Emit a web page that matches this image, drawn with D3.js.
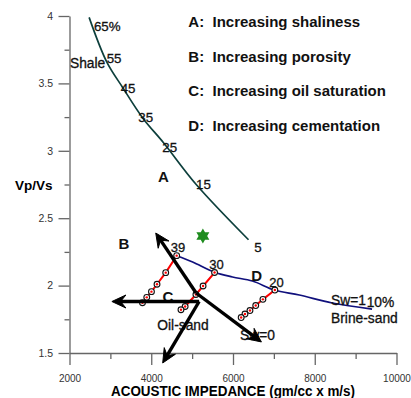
<!DOCTYPE html>
<html>
<head>
<meta charset="utf-8">
<script src="https://cdn.jsdelivr.net/npm/d3@7"></script>
<style>
  html, body { margin: 0; padding: 0; background: #fff; }
  svg { display: block; font-family: "Liberation Sans", Arial, Helvetica, sans-serif; }
</style>
</head>
<body>
<svg id="chart" width="411" height="398"></svg>
<script>
// ---- data: acoustic impedance (gm/cc x m/s) vs Vp/Vs ----
const xMajorTicks = [2000, 4000, 6000, 8000, 10000];
const xMinorTicks = [3000, 5000, 7000, 9000];
const yMajorTicks = [1.5, 2, 2.5, 3, 3.5, 4];
const yMinorTicks = [1.75, 2.25, 2.75, 3.25, 3.75];

// shale trend (clay content 65% -> 5%)
const shaleAI    = [2480, 2910, 3300, 3800, 4300, 5100, 6380];
const shaleVpVs  = [3.99, 3.66, 3.47, 3.24, 3.06, 2.75, 2.34];
const shaleLabels = ["65%", "55", "45", "35", "25", "15", "5"];
const shaleLabelAI   = [2599, 2910, 3253, 3683, 4270, 5095, 6521];
const shaleLabelVpVs = [3.891, 3.649, 3.427, 3.216, 2.991, 2.713, 2.251];

// brine-sand trend (porosity 39% -> 10%, Sw = 1)
const brineAI   = [4622, 5012, 5549, 5988, 6476, 7012, 7622, 8427, 9402];
const brineVpVs = [2.222, 2.175, 2.099, 2.064, 2.034, 1.967, 1.930, 1.871, 1.826];

// oil substitution lines for porosity 39, 30 and 20 (Sw from 1 down to 0)
const sat39AI   = [4622, 4354, 4141, 4005, 3890, 3785];
const sat39VpVs = [2.222, 2.096, 2.010, 1.955, 1.913, 1.873];
const sat30AI   = [5549, 5268, 5093, 4829, 4727];
const sat30VpVs = [2.097, 1.997, 1.934, 1.845, 1.821];
const sat20AI   = [7024, 6732, 6556, 6415, 6293, 6200];
const sat20VpVs = [1.967, 1.898, 1.852, 1.815, 1.789, 1.763];

// reference sample
const starAI = 5263, starVpVs = 2.368;

// trend arrows: [from AI, from Vp/Vs, to AI, to Vp/Vs]
const arrowB   = [5098, 1.945, 4110, 2.390];
const arrowSw0 = [5098, 1.945, 6695, 1.582];
const arrowC   = [5171, 1.882, 3037, 1.882];
const arrowDn  = [5171, 1.882, 4280, 1.426];

// text annotations
const porosityLabels = ["39", "30", "20"];
const porosityLabelAI   = [4476, 5420, 6888];
const porosityLabelVpVs = [2.247, 2.123, 1.992];
const noteText = ["Shale", "Sw=1", "10%", "Brine-sand", "Oil-sand", "Sw=0"];
const noteAI   = [2012, 8398, 9271, 8398, 4148, 6171];
const noteVpVs = [3.612, 1.856, 1.839, 1.720, 1.667, 1.596];
const letterText = ["A", "B", "C", "D"];
const letterAI   = [4295, 3333, 4410, 6580];
const letterVpVs = [2.765, 2.269, 1.876, 2.034];
const legendKeys = ["A:", "B:", "C:", "D:"];
const legendText = ["Increasing shaliness", "Increasing porosity",
                    "Increasing oil saturation", "Increasing cementation"];

// ---- drawing ----
const svg = d3.select("#chart");
const x = d3.scaleLinear().domain([2000, 10000]).range([69.5, 396.5]);
const y = d3.scaleLinear().domain([1.5, 4]).range([353, 16]);
const axisColor = "#666";

// x axis: major ticks with labels, minor ticks without
const gx = svg.append("g").attr("transform", `translate(0,${y(1.5)})`);
gx.call(d3.axisBottom(x).tickValues(xMajorTicks).tickSize(12).tickPadding(9.5)
        .tickFormat(d3.format("d")).tickSizeOuter(0));
gx.call(g => g.selectAll(".tick text").attr("font-size", 10).attr("fill", "#333"));
const gxm = svg.append("g").attr("transform", `translate(0,${y(1.5)})`);
gxm.call(d3.axisBottom(x).tickValues(xMinorTicks).tickSize(6).tickFormat("").tickSizeOuter(0));
gxm.select(".domain").remove();

// y axis
const gy = svg.append("g").attr("transform", `translate(${x(2000)},0)`);
gy.call(d3.axisLeft(y).tickValues(yMajorTicks).tickSize(11).tickPadding(5.5)
        .tickFormat(d => d).tickSizeOuter(0));
gy.call(g => g.selectAll(".tick text").attr("font-size", 10.5).attr("fill", "#333"));
const gym = svg.append("g").attr("transform", `translate(${x(2000)},0)`);
gym.call(d3.axisLeft(y).tickValues(yMinorTicks).tickSize(5).tickFormat("").tickSizeOuter(0));
gym.select(".domain").remove();

svg.selectAll(".domain, .tick line").attr("stroke", axisColor).attr("stroke-width", 1.3);
svg.selectAll("g").attr("font-family", null);

// axis titles
svg.append("text").attr("x", (x(2000) + x(10000)) / 2).attr("y", 396)
  .attr("text-anchor", "middle").attr("font-weight", "bold").attr("font-size", 14)
  .attr("textLength", 244).attr("lengthAdjust", "spacingAndGlyphs")
  .text("ACOUSTIC IMPEDANCE (gm/cc x m/s)");
svg.append("text").attr("x", 15).attr("y", 190)
  .attr("font-weight", "bold").attr("font-size", 13.5).text("Vp/Vs");

// legend
legendKeys.forEach((k, i) => {
  const t = svg.append("text").attr("y", 27 + i * 34.5)
    .attr("font-weight", "bold").attr("font-size", 15).attr("fill", "#111");
  t.append("tspan").attr("x", 188.3).text(k);
  t.append("tspan").attr("x", 212.5).text(legendText[i]);
});

const line = d3.line().x(d => x(d[0])).y(d => y(d[1]));
const smooth = d3.line().x(d => x(d[0])).y(d => y(d[1])).curve(d3.curveCatmullRom.alpha(0.5));

// trend curves
svg.append("path").datum(d3.zip(shaleAI, shaleVpVs)).attr("d", smooth)
  .attr("fill", "none").attr("stroke", "#0d3f3c").attr("stroke-width", 1.7);
svg.append("path").datum(d3.zip(brineAI, brineVpVs)).attr("d", smooth)
  .attr("fill", "none").attr("stroke", "#10107c").attr("stroke-width", 1.7);

// saturation lines with Sw points
[[sat39AI, sat39VpVs], [sat30AI, sat30VpVs], [sat20AI, sat20VpVs]].forEach(([ai, vv]) => {
  const pts = d3.zip(ai, vv);
  svg.append("path").datum(pts).attr("d", line)
    .attr("fill", "none").attr("stroke", "#ff0000").attr("stroke-width", 2);
  const g = svg.append("g");
  g.selectAll("circle.ring").data(pts).join("circle").attr("class", "ring")
    .attr("cx", d => x(d[0])).attr("cy", d => y(d[1])).attr("r", 2.9)
    .attr("fill", "#fff").attr("stroke", "#111").attr("stroke-width", 1.1);
  g.selectAll("circle.dot").data(pts).join("circle").attr("class", "dot")
    .attr("cx", d => x(d[0])).attr("cy", d => y(d[1])).attr("r", 1.2)
    .attr("fill", "#ff0000");
});

// text labels
const addText = (texts, ai, vv, opts) => texts.forEach((t, i) => {
  const el = svg.append("text").attr("x", x(ai[i])).attr("y", y(vv[i]))
    .attr("font-size", opts.size).attr("font-weight", opts.weight || "normal")
    .attr("text-anchor", opts.anchor || "start").attr("fill", "#111").text(t);
  if (!opts.weight) el.attr("stroke", "#111").attr("stroke-width", 0.3);
});
addText(shaleLabels, shaleLabelAI, shaleLabelVpVs, { size: 13.3 });
addText(porosityLabels, porosityLabelAI, porosityLabelVpVs, { size: 13 });
addText(noteText, noteAI, noteVpVs, { size: 13.8 });
addText(letterText, letterAI, letterVpVs, { size: 15, weight: "bold", anchor: "middle" });

// arrows
function arrow(a) {
  const x0 = x(a[0]), y0 = y(a[1]), x1 = x(a[2]), y1 = y(a[3]);
  const len = Math.hypot(x1 - x0, y1 - y0);
  const ux = (x1 - x0) / len, uy = (y1 - y0) / len;
  const nx = -uy, ny = ux;
  const L = 14, W = 6.5;
  svg.append("line").attr("x1", x0).attr("y1", y0)
    .attr("x2", x1 - ux * 8).attr("y2", y1 - uy * 8)
    .attr("stroke", "#000").attr("stroke-width", 3.4).attr("stroke-linecap", "butt");
  const head = [
    [x1, y1],
    [x1 - ux * L + nx * W, y1 - uy * L + ny * W],
    [x1 - ux * L * 0.62, y1 - uy * L * 0.62],
    [x1 - ux * L - nx * W, y1 - uy * L - ny * W]
  ];
  svg.append("path").attr("d", "M" + head.map(p => p.join(",")).join("L") + "Z")
    .attr("fill", "#000").attr("stroke", "#000").attr("stroke-width", 1)
    .attr("stroke-linejoin", "miter");
}
[arrowB, arrowSw0, arrowC, arrowDn].forEach(arrow);

// star marker
const star = [];
for (let k = 0; k < 12; k++) {
  const r = k % 2 === 0 ? 7.5 : 4.3;
  const ang = -Math.PI / 2 + k * Math.PI / 6;
  star.push([x(starAI) + r * Math.cos(ang), y(starVpVs) + r * Math.sin(ang)]);
}
svg.append("path").attr("d", "M" + star.map(p => p.join(",")).join("L") + "Z")
  .attr("fill", "#1e8c1e");
</script>
</body>
</html>
